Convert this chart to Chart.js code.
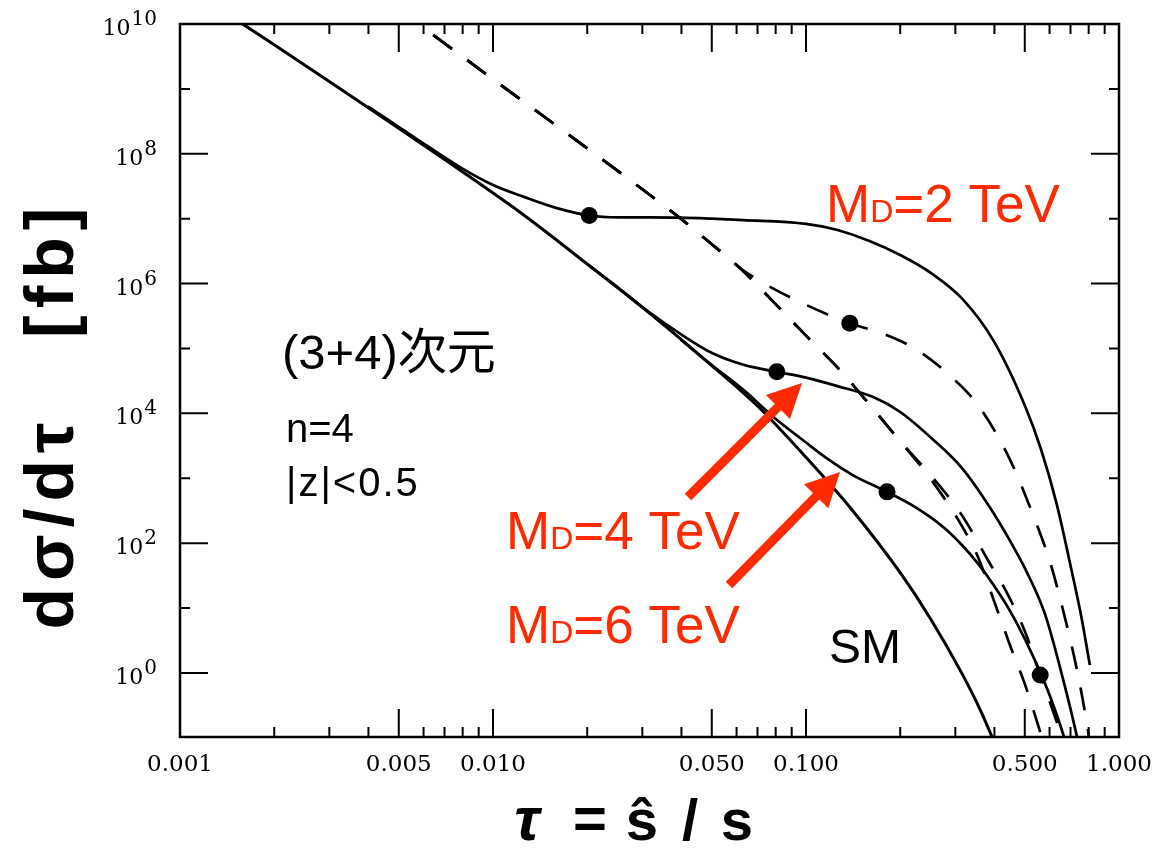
<!DOCTYPE html>
<html>
<head>
<meta charset="utf-8">
<script src="https://cdn.jsdelivr.net/npm/chart.js@4"></script>
<style>
  html, body { margin: 0; padding: 0; background: #fff; }
</style>
</head>
<body>
<canvas id="chart" width="1158" height="848"></canvas>
<script>
'use strict';

// --- data (tau = s_hat / s, dsigma/dtau in fb) ---
const smTau = [0.00141, 0.0020, 0.00316, 0.00501, 0.00794, 0.0126, 0.0200, 0.0316, 0.0501, 0.0708, 0.100, 0.141, 0.200, 0.251, 0.316, 0.363, 0.417];
const smVal = [1.45e10, 4.8e9, 1.1e9, 2.45e8, 5.4e7, 1.12e7, 2.0e6, 3.5e5, 5.4e4, 1.23e4, 2.1e3, 316, 35, 6.6, 0.95, 0.25, 0.052];

const md2Tau = [0.00398, 0.00562, 0.00794, 0.0100, 0.0126, 0.0158, 0.0203, 0.0251, 0.0316, 0.0398, 0.0501, 0.0631, 0.100, 0.126, 0.158, 0.200, 0.251, 0.316, 0.398, 0.501, 0.562, 0.631, 0.708, 0.759, 0.807];
const md2Val = [5.4e8, 1.78e8, 6.0e7, 3.3e7, 2.15e7, 1.48e7, 1.12e7, 1.05e7, 1.05e7, 1.04e7, 1.0e7, 9.5e6, 8.3e6, 6.7e6, 4.6e6, 2.75e6, 1.45e6, 5.8e5, 1.3e5, 1.3e4, 2.9e3, 417, 35, 7.1, 1.32];

const md4Tau = [0.0200, 0.0251, 0.0316, 0.0398, 0.0501, 0.0631, 0.0807, 0.100, 0.126, 0.164, 0.200, 0.251, 0.316, 0.387, 0.447, 0.508, 0.581, 0.671, 0.735, 0.759];
const md4Val = [2.0e6, 8.7e5, 3.6e5, 1.66e5, 8.5e4, 5.6e4, 4.37e4, 3.55e4, 2.63e4, 1.78e4, 1.05e4, 4.2e3, 1.41e3, 355, 112, 35.5, 7.9, 0.63, 0.102, 0.05];

const md6Tau = [0.0398, 0.0501, 0.0631, 0.0794, 0.100, 0.117, 0.141, 0.1815, 0.224, 0.251, 0.282, 0.316, 0.355, 0.398, 0.447, 0.501, 0.560, 0.603, 0.646, 0.676];
const md6Val = [1.36e5, 5.5e4, 2.3e4, 8.5e3, 3.55e3, 2.0e3, 1.12e3, 617, 357, 247, 158, 92, 48, 22.5, 9.3, 3.3, 1.03, 0.43, 0.168, 0.084];

// dashed set: common part, then three branches
const dashSmTau = [0.00501, 0.00575, 0.0100, 0.0158, 0.0251, 0.0398, 0.0501, 0.0615, 0.0794, 0.100, 0.126, 0.158, 0.200, 0.251, 0.316, 0.355, 0.398, 0.447, 0.501, 0.562, 0.589];
const dashSmVal = [1.58e10, 1.0e10, 1.41e9, 2.8e8, 5.4e7, 1.0e7, 4.0e6, 1.74e6, 5.0e5, 1.58e5, 5.1e4, 1.45e4, 3.7e3, 955, 178, 60, 13.2, 2.8, 0.66, 0.117, 0.056];

const dash2Tau = [0.00501, 0.00575, 0.0100, 0.0158, 0.0251, 0.0398, 0.0501, 0.0615, 0.075, 0.100, 0.138, 0.178, 0.224, 0.282, 0.355, 0.447, 0.525, 0.603, 0.676, 0.741, 0.794, 0.813];
const dash2Val = [1.58e10, 1.0e10, 1.41e9, 2.8e8, 5.4e7, 1.0e7, 4.0e6, 1.74e6, 9.5e5, 4.7e5, 2.45e5, 1.66e5, 9.8e4, 4.2e4, 1.32e4, 2.0e3, 316, 50, 6.3, 0.89, 0.141, 0.063];

const dash4Tau = [0.00501, 0.00575, 0.0100, 0.0158, 0.0251, 0.0398, 0.0501, 0.0615, 0.0794, 0.100, 0.126, 0.158, 0.200, 0.251, 0.316, 0.381, 0.439, 0.501, 0.560, 0.634, 0.661];
const dash4Val = [1.58e10, 1.0e10, 1.41e9, 2.8e8, 5.4e7, 1.0e7, 4.0e6, 1.74e6, 5.0e5, 1.58e5, 5.1e4, 1.45e4, 3.7e3, 1.1e3, 263, 55, 17, 4.3, 0.93, 0.17, 0.089];

// filled dots marking sqrt(s_hat) = M_D on each curve
const dotTau = [0.0203, 0.0807, 0.1815, 0.138, 0.560];
const dotVal = [1.12e7, 4.37e4, 617, 2.45e5, 0.93];

// axes
const xMin = 0.001, xMax = 1.0;
const yMin = 0.103, yMax = 1e10;
const xLabelTicks = [0.001, 0.005, 0.01, 0.05, 0.1, 0.5, 1.0];
const xTickLabels = ['0.001', '0.005', '0.010', '0.050', '0.100', '0.500', '1.000'];
const xMajorTicks = [0.005, 0.01, 0.05, 0.1, 0.5];
const xMinorTicks = [0.002, 0.003, 0.004, 0.006, 0.007, 0.008, 0.009,
                     0.02, 0.03, 0.04, 0.06, 0.07, 0.08, 0.09,
                     0.2, 0.3, 0.4, 0.6, 0.7, 0.8, 0.9];
const yMajorExps = [0, 2, 4, 6, 8, 10];
const yMinorExps = [1, 3, 5, 7, 9];

const RED = '#ff2a00';
const SANS = '"Liberation Sans", "Noto Sans CJK JP", sans-serif';
const SERIF = '"DejaVu Serif", serif';

const toPts = (xs, ys) => xs.map((v, i) => ({ x: v, y: ys[i] }));

function curve(xs, ys, dashed, width) {
  return {
    data: toPts(xs, ys),
    borderColor: '#000',
    borderWidth: width || 2.7,
    borderDash: dashed ? [23, 19] : [],
    pointRadius: 0,
    cubicInterpolationMode: 'monotone',
    fill: false
  };
}

// labels, arrows, frame, ticks
const decorPlugin = {
  id: 'decor',
  afterDraw(chart) {
    const { ctx, chartArea: a, scales: { x, y } } = chart;
    ctx.save();

    // frame
    ctx.strokeStyle = '#000';
    ctx.lineWidth = 2.5;
    ctx.strokeRect(a.left, a.top, a.right - a.left, a.bottom - a.top);

    // tick marks (inward, top/bottom/left/right)
    ctx.lineWidth = 2;
    ctx.beginPath();
    const xTick = (v, len) => {
      const px = x.getPixelForValue(v);
      ctx.moveTo(px, a.bottom); ctx.lineTo(px, a.bottom - len);
      ctx.moveTo(px, a.top); ctx.lineTo(px, a.top + len);
    };
    const yTick = (v, len) => {
      const py = y.getPixelForValue(v);
      ctx.moveTo(a.left, py); ctx.lineTo(a.left + len, py);
      ctx.moveTo(a.right, py); ctx.lineTo(a.right - len, py);
    };
    xMajorTicks.forEach(v => xTick(v, 28));
    xMinorTicks.forEach(v => xTick(v, 10));
    yMajorExps.forEach(e => yTick(Math.pow(10, e), 28));
    yMinorExps.forEach(e => yTick(Math.pow(10, e), 10));
    ctx.stroke();

    // x tick labels
    ctx.fillStyle = '#000';
    ctx.font = '23px ' + SERIF;
    ctx.textAlign = 'center';
    ctx.textBaseline = 'alphabetic';
    xLabelTicks.forEach((v, i) => {
      ctx.fillText(xTickLabels[i], x.getPixelForValue(v), a.bottom + 34);
    });

    // y tick labels 10^n
    yMajorExps.forEach(e => {
      const py = y.getPixelForValue(Math.pow(10, e));
      ctx.font = '20px ' + SERIF;
      const sup = String(e);
      const sw = ctx.measureText(sup).width;
      ctx.textAlign = 'right';
      ctx.fillText(sup, a.left - 23, py + 1);
      ctx.font = '22px ' + SERIF;
      ctx.fillText('10', a.left - 23 - sw - 1, py + 11);
    });

    // x axis title, glyph by glyph
    ctx.textAlign = 'center';
    ctx.font = 'bold italic 62px ' + SANS;
    ctx.fillText('\u03c4', 527, 840);
    ctx.font = 'bold 58px ' + SANS;
    ctx.fillText('=', 590, 838);
    ctx.fillText('s\u0302', 642, 840);
    ctx.fillText('/', 690, 840);
    ctx.fillText('s', 737, 840);

    // y axis title
    ctx.save();
    ctx.translate(73, 415);
    ctx.rotate(-Math.PI / 2);
    ctx.font = 'bold 68px ' + SANS;
    ctx.letterSpacing = '7px';
    ctx.fillText('d\u03c3/d\u03c4   [fb]', 0, 0);
    ctx.restore();

    // black annotations
    ctx.textAlign = 'left';
    ctx.font = '49px ' + SANS;
    ctx.fillText('(3+4)\u6b21\u5143', 282, 369);
    ctx.font = '40px ' + SANS;
    ctx.fillText('n=4', 286, 442);
    ctx.letterSpacing = '2px';
    ctx.fillText('|z|<0.5', 286, 496);
    ctx.letterSpacing = '0px';
    ctx.font = '48px ' + SANS;
    ctx.fillText('SM', 829, 663);

    // red labels M_D = ...
    const mdLabel = (txt, lx, by) => {
      ctx.fillStyle = RED;
      ctx.font = '53px ' + SANS;
      ctx.fillText('M', lx, by);
      let w = ctx.measureText('M').width;
      ctx.font = '32px ' + SANS;
      ctx.fillText('D', lx + w, by);
      w += ctx.measureText('D').width;
      ctx.font = '53px ' + SANS;
      ctx.fillText(txt, lx + w, by);
    };
    mdLabel('=2 TeV', 826, 222);
    mdLabel('=4 TeV', 506, 549);
    mdLabel('=6 TeV', 506, 643);

    // red arrows
    const arrow = (x0, y0, x1, y1) => {
      const ang = Math.atan2(y1 - y0, x1 - x0);
      const hl = 34, hw = 17;
      const bx = x1 - hl * Math.cos(ang), by = y1 - hl * Math.sin(ang);
      ctx.strokeStyle = RED;
      ctx.fillStyle = RED;
      ctx.lineWidth = 9;
      ctx.beginPath();
      ctx.moveTo(x0, y0); ctx.lineTo(bx + 2 * Math.cos(ang), by + 2 * Math.sin(ang));
      ctx.stroke();
      ctx.beginPath();
      ctx.moveTo(x1, y1);
      ctx.lineTo(bx + hw * Math.sin(ang), by - hw * Math.cos(ang));
      ctx.lineTo(bx - hw * Math.sin(ang), by + hw * Math.cos(ang));
      ctx.closePath();
      ctx.fill();
    };
    arrow(688, 497, 802, 383);
    arrow(729, 585, 840, 472);

    ctx.restore();
  }
};

new Chart(document.getElementById('chart'), {
  type: 'line',
  data: {
    datasets: [
      curve(smTau, smVal, false, 3),
      curve(md2Tau, md2Val, false),
      curve(md4Tau, md4Val, false),
      curve(md6Tau, md6Val, false),
      curve(dashSmTau, dashSmVal, true),
      curve(dash2Tau, dash2Val, true),
      curve(dash4Tau, dash4Val, true),
      {
        data: toPts(dotTau, dotVal),
        showLine: false,
        pointRadius: 8.5,
        pointBackgroundColor: '#000',
        pointBorderColor: '#000',
        pointBorderWidth: 0,
        clip: false
      }
    ]
  },
  options: {
    responsive: false,
    animation: false,
    events: [],
    layout: { padding: { left: 180, right: 39, top: 24, bottom: 111 } },
    plugins: {
      legend: { display: false },
      tooltip: { enabled: false }
    },
    scales: {
      x: { type: 'logarithmic', display: false, min: xMin, max: xMax },
      y: { type: 'logarithmic', display: false, min: yMin, max: yMax }
    }
  },
  plugins: [decorPlugin]
});
</script>
</body>
</html>
